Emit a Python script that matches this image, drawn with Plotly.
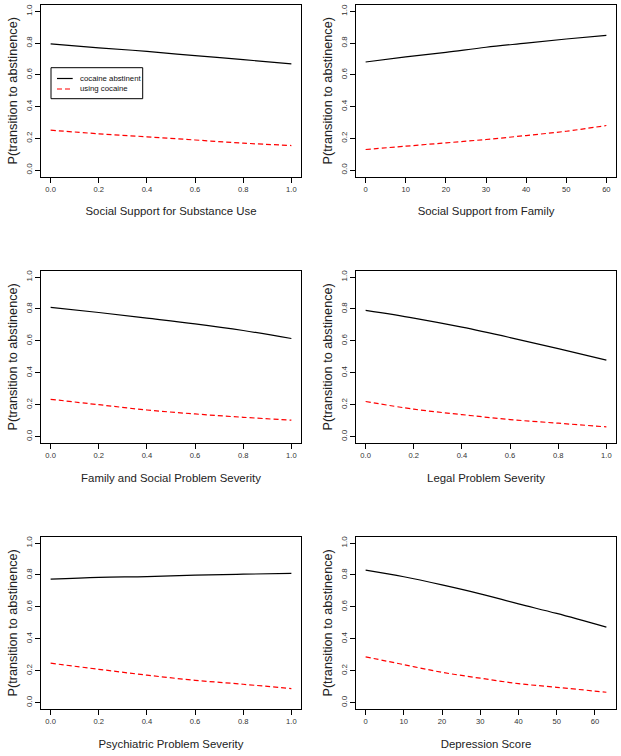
import plotly.graph_objects as go

# ---- data ----
x_unit = [0.0, 0.2, 0.4, 0.6, 0.8, 1.0]
x_family = [0, 10, 20, 30, 40, 50, 60]
x_depr = [0, 10, 20, 30, 40, 50, 63]

ss_sub_abst = [0.795, 0.770, 0.748, 0.721, 0.696, 0.669]
ss_sub_using = [0.252, 0.229, 0.210, 0.190, 0.170, 0.155]

ss_fam_abst = [0.681, 0.713, 0.742, 0.774, 0.800, 0.826, 0.849]
ss_fam_using = [0.130, 0.151, 0.172, 0.193, 0.218, 0.245, 0.281]

famsoc_abst = [0.810, 0.778, 0.743, 0.707, 0.665, 0.615]
famsoc_using = [0.234, 0.200, 0.167, 0.142, 0.121, 0.103]

legal_abst = [0.791, 0.743, 0.686, 0.621, 0.552, 0.479]
legal_using = [0.220, 0.172, 0.138, 0.107, 0.084, 0.061]

psych_abst = [0.774, 0.785, 0.790, 0.799, 0.805, 0.810]
psych_using = [0.247, 0.209, 0.172, 0.140, 0.115, 0.088]

depr_abst = [0.831, 0.789, 0.738, 0.682, 0.619, 0.559, 0.473]
depr_using = [0.287, 0.238, 0.190, 0.153, 0.119, 0.096, 0.065]

panels = [
    ("Social Support for Substance Use", x_unit, ss_sub_abst, ss_sub_using),
    ("Social Support from Family", x_family, ss_fam_abst, ss_fam_using),
    ("Family and Social Problem Severity", x_unit, famsoc_abst, famsoc_using),
    ("Legal Problem Severity", x_unit, legal_abst, legal_using),
    ("Psychiatric Problem Severity", x_unit, psych_abst, psych_using),
    ("Depression Score", x_depr, depr_abst, depr_using),
]
series_names = ["cocaine abstinent", "using cocaine"]
y_title = "P(transition to abstinence)"
y_ticks = [0.0, 0.2, 0.4, 0.6, 0.8, 1.0]
x_ticks_wide = [0, 10, 20, 30, 40, 50, 60]

# ---- layout geometry (page pixels) ----
W, H = 621, 756


def px(x):
    return x / W


def py(y):
    return 1 - y / H


col_x = [(41, 301), (356, 616)]
row_y = [(5, 176.5), (270.7, 443), (536.7, 709)]

FONT = "Liberation Sans, Arial, sans-serif"

fig = go.Figure()
layout = dict(
    width=W, height=H,
    margin=dict(l=0, r=0, t=0, b=0),
    paper_bgcolor="white", plot_bgcolor="white",
    font=dict(family=FONT, color="#222"),
    showlegend=False,
)

for i, (title, xs, abst, using) in enumerate(panels):
    r, c = divmod(i, 2)
    n = i + 1
    xa = "x" if n == 1 else f"x{n}"
    ya = "y" if n == 1 else f"y{n}"
    x0, x1 = col_x[c]
    yt, yb = row_y[r]
    xmin, xmax = min(xs), max(xs)
    pad = 0.04 * (xmax - xmin)
    is_unit = xmax <= 1.0

    fig.add_trace(go.Scatter(
        x=xs, y=abst, mode="lines", name=series_names[0],
        line=dict(color="black", width=1.2, shape="spline"),
        xaxis=xa, yaxis=ya,
    ))
    fig.add_trace(go.Scatter(
        x=xs, y=using, mode="lines", name=series_names[1],
        line=dict(color="#ff0000", width=1.2, dash="5px,3px", shape="spline"),
        xaxis=xa, yaxis=ya,
    ))

    layout["xaxis" if n == 1 else f"xaxis{n}"] = dict(
        domain=[px(x0), px(x1)], anchor=ya,
        range=[xmin - pad, xmax + pad],
        tickmode="array",
        tickvals=(x_unit if is_unit else x_ticks_wide),
        tickformat=(".1f" if is_unit else "d"),
        showline=True, linecolor="black", linewidth=1, mirror=True,
        ticks="outside", ticklen=5, tickcolor="black", tickwidth=1,
        showgrid=False, zeroline=False,
        tickfont=dict(family=FONT, size=7.6, color="#333"),
        title=dict(text=title, font=dict(family=FONT, size=11.4, color="#222"),
                   standoff=14),
        automargin=False,
    )
    layout["yaxis" if n == 1 else f"yaxis{n}"] = dict(
        domain=[py(yb), py(yt)], anchor=xa,
        range=[-0.04, 1.04],
        tickmode="array", tickvals=y_ticks, tickformat=".1f",
        tickangle=-90,
        showline=True, linecolor="black", linewidth=1, mirror=True,
        ticks="outside", ticklen=5, tickcolor="black", tickwidth=1,
        showgrid=False, zeroline=False,
        tickfont=dict(family=FONT, size=8, color="#333"),
        title=dict(text=y_title, font=dict(family=FONT, size=12.7, color="#222"),
                   standoff=4),
        automargin=False,
    )

# ---- legend box inside the first panel (drawn like R's legend()) ----
leg_box = (51, 67.7, 142.7, 98.7)
leg_rows = [78.5, 89]
leg_line_x = (57, 72.7)
leg_text_x = 78.2
leg_styles = [dict(color="black", width=1.2),
              dict(color="#ff0000", width=1.2, dash="5px,3px")]

shapes = [dict(type="rect", xref="paper", yref="paper",
               x0=px(leg_box[0]), x1=px(leg_box[2]),
               y0=py(leg_box[3]), y1=py(leg_box[1]),
               line=dict(color="black", width=1), fillcolor="white", layer="above")]
annotations = []
for name, yrow, st in zip(series_names, leg_rows, leg_styles):
    shapes.append(dict(type="line", xref="paper", yref="paper",
                       x0=px(leg_line_x[0]), x1=px(leg_line_x[1]),
                       y0=py(yrow), y1=py(yrow), line=st, layer="above"))
    annotations.append(dict(text=name, xref="paper", yref="paper",
                            x=px(leg_text_x), y=py(yrow),
                            xanchor="left", yanchor="middle", showarrow=False,
                            font=dict(family=FONT, size=7.8, color="#111")))

layout["shapes"] = shapes
layout["annotations"] = annotations

fig.update_layout(**layout)
fig.write_html(
    "out.html",
    config={"displayModeBar": False},
    post_script="document.body.style.margin='0';document.body.style.padding='0';",
)
